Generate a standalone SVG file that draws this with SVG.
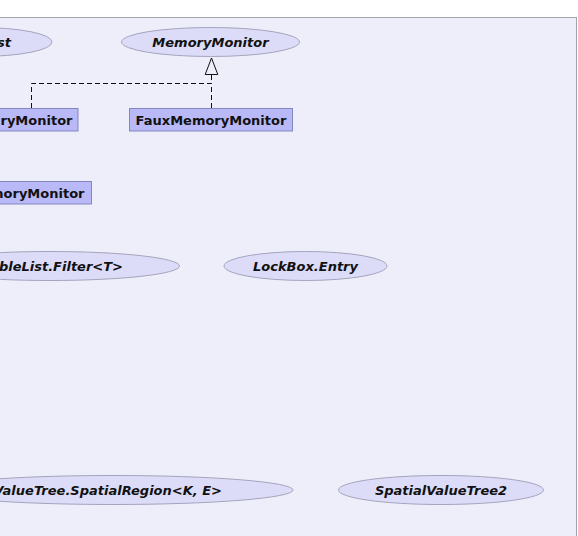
<svg xmlns="http://www.w3.org/2000/svg" width="578" height="536" viewBox="0 0 578 536">
<defs>
<style>
.frame{fill:#eeeefb;stroke:#a3a3ad;stroke-width:1}
.iface ellipse{fill:#dcdcf8;stroke:#a4a4bc;stroke-width:1}
.cls rect{fill:#b9b9f8;stroke:#8585c0;stroke-width:1}
text{font-family:"DejaVu Sans",sans-serif;font-size:13px;font-weight:bold;fill:#111}
.iface text{font-style:italic}
.conn path{fill:none;stroke:#111;stroke-width:1}
.dash{stroke-dasharray:5,3}
</style>
<marker id="tri" markerWidth="14" markerHeight="18" refX="6.5" refY="1" orient="auto" markerUnits="userSpaceOnUse" viewBox="0 0 14 18">
</marker>
</defs>
<rect x="0" y="0" width="578" height="536" fill="#ffffff"/>
<rect class="frame" x="-2" y="17.5" width="578.5" height="530"/>
<g class="conn" id="connectors">
<path class="dash" d="M211.5,108 V83.5 M31.5,108 V83.5 H211.5 V74"/>
<path d="M211.5,58 L205.2,74.5 L217.8,74.5 Z" fill="#ffffff" stroke="#111"/>
</g>
<g class="iface" id="n-list">
<ellipse cx="-20" cy="42" rx="72" ry="14.5"/>
<text x="11" y="46.5" text-anchor="end">st</text>
</g>
<g class="iface" id="n-memorymonitor">
<ellipse cx="210.5" cy="42" rx="89" ry="14.5"/>
<text x="210.5" y="46.5" text-anchor="middle">MemoryMonitor</text>
</g>
<g class="cls" id="n-rymonitor">
<rect x="-10" y="108.5" width="88" height="22.5"/>
<text x="72.5" y="124.5" text-anchor="end">ryMonitor</text>
</g>
<g class="cls" id="n-fauxmemorymonitor">
<rect x="129.5" y="108.5" width="163" height="22.5"/>
<text x="211" y="124.5" text-anchor="middle">FauxMemoryMonitor</text>
</g>
<g class="cls" id="n-norymonitor">
<rect x="-10" y="181.5" width="101.5" height="22.5"/>
<text x="84.5" y="197.5" text-anchor="end">noryMonitor</text>
</g>
<g class="iface" id="n-filter">
<ellipse cx="50" cy="266" rx="129.5" ry="14.5"/>
<text x="123" y="270.5" text-anchor="end">ableList.Filter&lt;T&gt;</text>
</g>
<g class="iface" id="n-lockboxentry">
<ellipse cx="305.5" cy="266" rx="81.5" ry="14.5"/>
<text x="305.5" y="270.5" text-anchor="middle">LockBox.Entry</text>
</g>
<g class="iface" id="n-spatialregion">
<ellipse cx="113" cy="490" rx="180" ry="14.5"/>
<text x="222" y="494.5" text-anchor="end">ValueTree.SpatialRegion&lt;K, E&gt;</text>
</g>
<g class="iface" id="n-spatialvaluetree2">
<ellipse cx="441" cy="490" rx="102.5" ry="14.5"/>
<text x="441" y="494.5" text-anchor="middle">SpatialValueTree2</text>
</g>
</svg>
